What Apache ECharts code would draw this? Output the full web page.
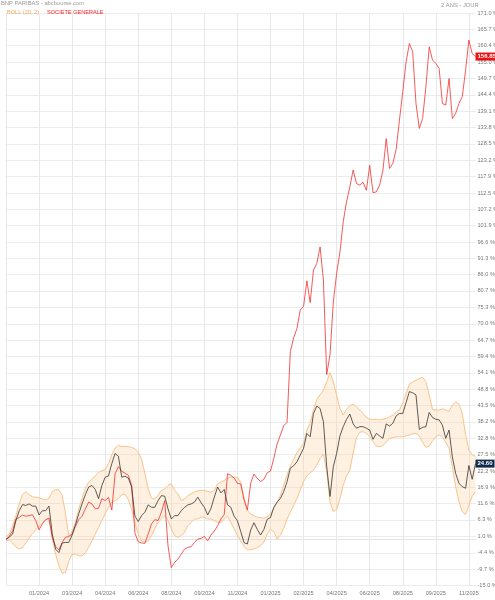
<!DOCTYPE html>
<html>
<head>
<meta charset="utf-8">
<script src="https://cdn.jsdelivr.net/npm/echarts@6/dist/echarts.min.js"></script>
<style>
html,body{margin:0;padding:0;background:#fff;}
#chart{width:495px;height:600px;}
</style>
</head>
<body>
<div id="chart"></div>
<script>
const xTickLabels = ['01/2024','03/2024','04/2024','06/2024','08/2024','09/2024','11/2024','01/2025','02/2025','04/2025','06/2025','08/2025','09/2025','11/2025'];
const yTicks = [-15.0,-9.7,-4.4,1.0,6.3,11.6,16.9,22.2,27.5,32.8,38.2,43.5,48.8,54.1,59.4,64.7,70.0,75.3,80.7,86.0,91.3,96.6,101.9,107.2,112.5,117.9,123.2,128.5,133.8,139.1,144.4,149.7,155.0,160.4,165.7,171.0];

const bnp = [0.0,0.7,1.7,6.1,9.3,11.3,11.0,11.5,10.8,10.8,7.9,9.3,9.3,10.8,1.7,-3.2,-4.3,-1.2,-1.0,-1.0,
1.4,4.7,8.3,11.5,14.5,17.0,17.5,16.2,13.2,17.5,20.2,20.6,24.6,27.9,27.0,20.2,20.5,19.9,17.0,7.5,
5.8,7.7,8.8,11.2,10.4,10.4,12.6,14.2,14.0,9.9,6.6,7.7,7.7,9.3,10.4,11.2,11.5,12.1,13.7,11.9,
10.4,7.9,10.1,13.7,17.0,15.1,16.2,11.2,10.4,7.5,6.0,2.5,-1.1,-1.5,3.0,5.4,3.2,1.4,3.2,6.5,
7.1,10.4,12.1,13.3,15.5,18.7,23.1,23.9,25.2,27.4,29.6,34.4,33.3,40.9,43.3,42.5,38.2,23.6,13.9,23.6,
27.9,33.6,36.6,39.0,40.7,37.5,36.1,36.6,36.6,36.1,35.5,32.5,34.4,33.6,32.8,37.5,36.8,37.7,40.1,40.9,
40.9,44.4,48.0,47.6,46.9,35.7,36.4,36.6,41.2,39.6,39.0,38.8,37.1,32.8,35.5,26.8,21.4,18.2,17.1,16.6,
24.0,19.5,24.6];

const sg = [0.0,1.0,2.8,6.6,7.1,7.9,7.5,7.7,8.0,6.1,3.1,5.0,6.4,6.9,0.6,-2.3,-3.4,-1.0,0.7,0.9,
1.7,4.2,6.4,7.5,9.9,12.1,11.5,9.9,10.1,13.2,12.6,13.6,9.5,21.3,23.6,22.1,21.5,20.8,17.5,2.0,
-0.8,-1.2,-1.3,1.7,5.0,6.4,6.1,8.8,12.6,-2.1,-9.2,-7.5,-6.4,-4.8,-3.2,-2.6,-2.4,-1.0,0.1,0.3,
1.0,-0.5,1.4,2.7,4.4,6.6,8.0,21.3,20.8,19.9,18.2,18.0,12.8,9.5,18.2,21.2,19.8,18.8,19.5,21.6,
22.2,26.3,31.0,33.9,36.9,38.0,61.0,65.5,68.5,74.5,75.7,84.0,76.9,87.5,89.6,95.0,84.2,53.5,60.0,77.0,
86.4,93.4,103.2,109.7,114.5,120.0,115.6,115.1,116.0,113.4,121.5,112.6,112.9,115.1,119.9,130.2,120.5,122.1,126.7,136.2,
145.4,155.1,161.1,158.4,141.6,133.5,136.7,147.0,160.0,155.7,154.6,153.0,141.6,141.1,149.7,136.7,138.4,141.6,143.8,152.4,
162.2,157.8,156.85];

const bollUpper = [0.8,1.7,4.4,7.7,11.5,14.5,15.5,14.5,13.8,13.7,13.5,13.1,12.8,13.4,15.5,16.2,16.0,14.3,8.3,1.0,
2.5,5.5,9.7,13.4,16.6,18.6,19.5,20.6,21.7,22.3,22.7,24.6,27.5,29.7,30.6,30.1,30.2,30.1,29.9,29.4,
28.4,25.9,21.5,16.4,13.4,13.1,14.3,15.9,16.4,17.5,18.1,15.9,14.8,12.6,13.1,14.2,14.8,15.3,15.7,15.9,
15.9,15.6,15.3,15.9,18.0,18.6,19.1,19.9,20.2,20.2,20.2,18.5,13.5,9.5,8.2,7.7,7.2,7.0,6.9,7.4,
8.2,10.1,11.9,14.4,17.6,20.9,23.8,26.0,28.1,29.8,31.2,35.5,37.7,42.0,45.5,47.0,48.5,51.2,54.2,51.2,
46.9,42.5,40.4,42.2,43.5,43.9,43.1,42.0,40.9,39.6,39.0,39.0,39.0,38.8,39.0,39.3,39.8,40.3,41.4,42.0,
44.4,47.2,50.5,51.1,51.7,52.2,52.7,51.2,46.9,42.2,42.0,42.0,42.4,42.0,41.6,43.6,44.7,43.9,40.9,34.0,
29.0,27.5,27.0];

const bollLower = [-0.5,-0.2,-1.2,-2.4,-3.1,-2.7,-1.2,0.4,1.9,3.1,4.3,5.3,6.4,6.4,0.3,-4.8,-8.6,-11.0,-10.8,-7.0,
-4.9,-4.8,-5.4,-5.4,-4.3,-2.6,-0.5,1.7,3.9,6.1,8.3,10.4,12.1,12.6,13.2,14.5,14.7,12.9,9.7,5.3,
1.7,-0.5,-1.0,-0.5,1.2,3.4,5.5,6.6,7.7,6.1,3.4,1.2,0.6,1.2,2.3,4.4,5.5,6.6,6.6,7.2,
7.2,6.6,6.6,6.1,5.5,5.5,6.6,7.5,5.5,3.4,1.2,-0.5,-2.4,-3.4,-3.4,-3.1,-2.7,-2.1,-0.9,1.7,
3.2,2.5,0.1,1.4,3.6,6.6,8.8,11.0,13.3,16.0,18.7,20.7,21.6,22.5,24.1,26.3,27.7,22.0,12.2,9.0,
9.7,13.3,17.6,20.6,22.5,28.0,33.0,34.8,35.0,34.4,33.3,31.7,30.3,30.1,30.5,31.6,32.7,33.1,33.3,33.3,
33.3,33.6,33.9,34.3,34.4,33.6,31.5,29.9,30.3,32.0,33.3,33.9,33.3,31.5,29.6,23.6,17.1,12.2,9.0,8.1,
11.0,14.0,15.5];

const categories = bnp.map((_, i) => i);
const bandWidth = bollUpper.map((u, i) => +(u - bollLower[i]).toFixed(2));

const FONT = 'Liberation Sans, Arial, sans-serif';
const FS = 5.6;
const isTick = (idx) => idx > 0 && idx % 10 === 0;

const chart = echarts.init(document.getElementById('chart'), null, {renderer: 'canvas'});
chart.setOption({
  animation: false,
  backgroundColor: '#fff',
  textStyle: {fontFamily: FONT},
  title: [
    {text: 'BNP PARIBAS - abcbourse.com', left: 1, top: 0, padding: 0, textStyle: {fontSize: 5.8, fontWeight: 'normal', color: '#999', fontFamily: FONT}},
    {text: '2 ANS - JOUR', left: 441, top: 2, padding: 0, textStyle: {fontSize: 5.8, fontWeight: 'normal', color: '#999', fontFamily: FONT}}
  ],
  legend: {
    left: 2, top: 9, padding: 0, itemWidth: 0, itemHeight: 0, itemGap: 3, icon: 'rect',
    textStyle: {fontSize: FS, fontFamily: FONT},
    selectedMode: false,
    data: [
      {name: 'BOLL (20, 2)', textStyle: {color: '#f5a860'}},
      {name: 'SOCIETE GENERALE', textStyle: {color: '#f22'}}
    ]
  },
  grid: {left: 6, right: 19.5, top: 13, bottom: 14.5, containLabel: false, outerBoundsMode: 'none'},
  xAxis: {
    type: 'category',
    data: categories,
    boundaryGap: false,
    axisLine: {show: true, lineStyle: {color: '#e2e2e2'}},
    axisTick: {show: false},
    axisLabel: {
      interval: (idx) => isTick(idx),
      formatter: (v, idx) => xTickLabels[idx / 10 - 1] || '',
      fontSize: FS, color: '#777', margin: 5, fontFamily: FONT
    },
    splitLine: {show: true, interval: (idx) => idx % 10 === 0, lineStyle: {color: '#e8e8e8', width: 1}}
  },
  yAxis: {
    type: 'value',
    position: 'right',
    min: -15, max: 171,
    axisLine: {show: false},
    axisTick: {show: false, customValues: yTicks},
    axisLabel: {customValues: yTicks, formatter: (v) => v.toFixed(1) + ' %', fontSize: FS, color: '#777', margin: 2, fontFamily: FONT},
    splitLine: {show: true, lineStyle: {color: '#ececec', width: 1}}
  },
  series: [
    {
      name: 'bollLower', type: 'line', data: bollLower, stack: 'boll', stackStrategy: 'all',
      symbol: 'none', smooth: false,
      lineStyle: {color: '#f8c48c', width: 1}, silent: true
    },
    {
      name: 'BOLL (20, 2)', type: 'line', data: bandWidth, stack: 'boll', stackStrategy: 'all',
      symbol: 'none', smooth: false,
      lineStyle: {color: '#f8c48c', width: 1},
      itemStyle: {color: '#f5a860'},
      areaStyle: {color: 'rgba(252,210,160,0.45)'}
    },
    {
      name: 'SOCIETE GENERALE', type: 'line', data: sg, symbol: 'none',
      lineStyle: {color: '#f23030', width: 0.8},
      itemStyle: {color: '#f22'},
      endLabel: {show: true, formatter: (p) => p.value.toFixed(2), backgroundColor: '#ee1111', color: '#fff', fontSize: 6, fontWeight: 'bold', padding: [1, 2], distance: 0, fontFamily: FONT}
    },
    {
      name: 'BNP PARIBAS', type: 'line', data: bnp, symbol: 'none',
      lineStyle: {color: '#333', width: 0.8},
      itemStyle: {color: '#333'},
      endLabel: {show: true, formatter: (p) => p.value.toFixed(2), backgroundColor: '#13294b', color: '#fff', fontSize: 6, fontWeight: 'bold', padding: [1, 2], distance: 0, fontFamily: FONT}
    }
  ]
});
</script>
</body>
</html>
